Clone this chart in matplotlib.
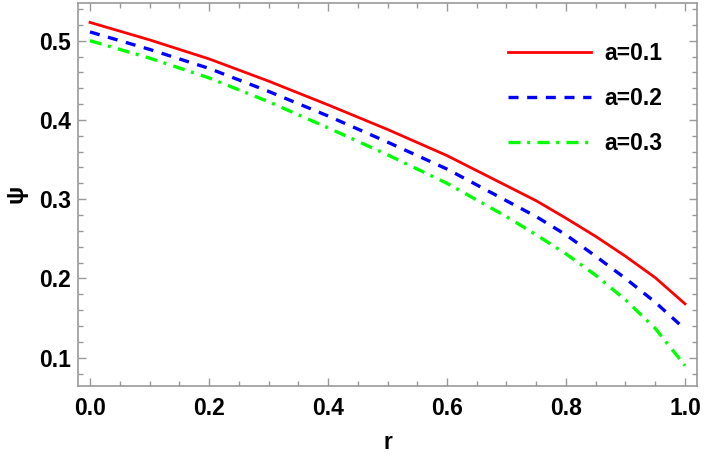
import numpy as np
import matplotlib
matplotlib.use("Agg")
import matplotlib.pyplot as plt
from matplotlib.ticker import MultipleLocator, FormatStrFormatter

r = [0.0, 0.1, 0.2, 0.3, 0.4, 0.5, 0.6, 0.7, 0.75, 0.8, 0.85, 0.9, 0.95, 1.0]
psi_a01 = [0.523, 0.501, 0.477, 0.449, 0.419, 0.388, 0.355, 0.317, 0.298, 0.276, 0.253, 0.228, 0.201, 0.168]
psi_a02 = [0.511, 0.489, 0.465, 0.436, 0.405, 0.372, 0.338, 0.298, 0.278, 0.255, 0.228, 0.200, 0.170, 0.136]
psi_a03 = [0.500, 0.478, 0.453, 0.423, 0.390, 0.356, 0.320, 0.278, 0.255, 0.231, 0.204, 0.173, 0.137, 0.090]
labels = ["a=0.1", "a=0.2", "a=0.3"]

plt.rcParams['font.family'] = ['Liberation Sans', 'DejaVu Sans']
FS = 16.5

fig = plt.figure(figsize=(7.04, 4.58), dpi=100)
ax = fig.add_axes([78/704, 1-385.7/458, (697-78)/704, (385.7-3)/458])

ax.plot(r, psi_a01, color=(1, 0, 0), lw=2.0, linestyle='-', label=labels[0])
ax.plot(r, psi_a02, color=(0, 0, 1), lw=2.4, linestyle=(0, (3.0, 2.6)), label=labels[1])
ax.plot(r, psi_a03, color=(0, 1, 0), lw=2.4, linestyle=(0, (3.6, 2.0, 0.9, 2.2)), label=labels[2])

ax.set_xlim(-0.0202, 1.0202)
ax.set_ylim(0.0647, 0.5475)

ax.xaxis.set_major_locator(MultipleLocator(0.2))
ax.xaxis.set_minor_locator(MultipleLocator(0.05))
ax.yaxis.set_major_locator(MultipleLocator(0.1))
ax.yaxis.set_minor_locator(MultipleLocator(0.02))
ax.xaxis.set_major_formatter(FormatStrFormatter('%.1f'))
ax.yaxis.set_major_formatter(FormatStrFormatter('%.1f'))

frame_col = (0.6, 0.6, 0.6)
for s in ax.spines.values():
    s.set_color(frame_col)
    s.set_linewidth(1.2)
ax.tick_params(which='both', direction='in', top=True, right=True, color=frame_col, width=1.0)
ax.tick_params(which='major', length=6, labelsize=FS, pad=8)
ax.tick_params(which='minor', length=3.5)
ax.tick_params(axis='y', which='major', pad=5)
for lab in ax.get_xticklabels() + ax.get_yticklabels():
    lab.set_fontweight('bold')

ax.set_xlabel('r', fontsize=FS, fontweight='bold', labelpad=8)
ax.set_ylabel('ψ', fontsize=FS + 1, fontweight='bold', labelpad=8, rotation=90)

leg = ax.legend(loc='upper right', bbox_to_anchor=(0.978, 0.952), frameon=False,
                prop={'weight': 'bold', 'size': FS}, handlelength=3.6,
                handletextpad=0.6, labelspacing=0.95)

fig.savefig('out.png', dpi=100)
